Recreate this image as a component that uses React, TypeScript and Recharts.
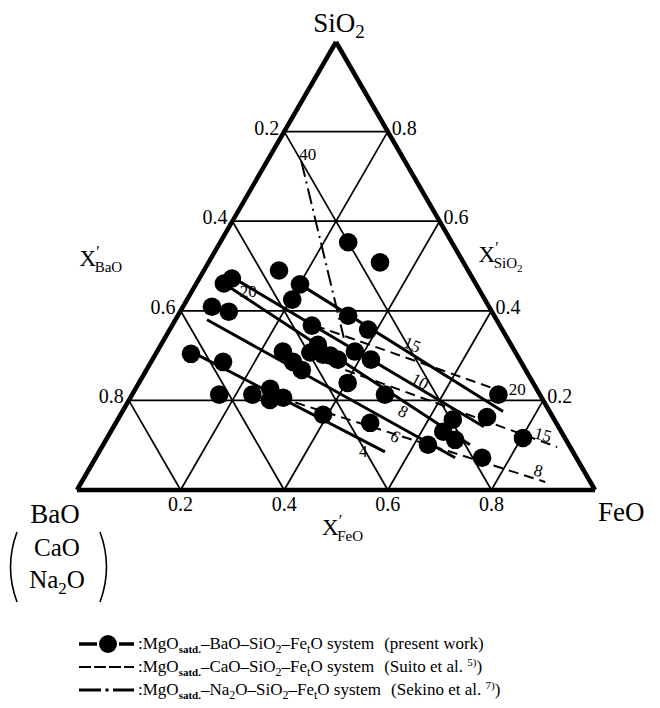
import React from 'react';
import { ScatterChart, Scatter, XAxis, YAxis, ReferenceLine, ReferenceDot } from 'recharts';

// Compositions are [X'FeO, X'SiO2]; X'BaO is the remainder.
type Comp = [number, number];

const gridLevels = [0.2, 0.4, 0.6, 0.8];
const levelLabels = ['0.2', '0.4', '0.6', '0.8'];

// MgO-saturated BaO-SiO2-FetO slags (present work)
const measured: Comp[] = [
  [0.247, 0.553], [0.331, 0.508], [0.145, 0.49], [0.201, 0.459], [0.203, 0.425],
  [0.063, 0.472], [0.053, 0.461], [0.056, 0.409], [0.094, 0.398], [0.329, 0.389],
  [0.383, 0.358], [0.27, 0.367], [0.303, 0.324], [0.243, 0.309], [0.274, 0.286],
  [0.3, 0.268], [0.339, 0.3], [0.358, 0.291], [0.382, 0.309], [0.422, 0.291],
  [0.403, 0.239], [0.068, 0.304], [0.139, 0.286], [0.168, 0.213], [0.232, 0.213],
  [0.26, 0.226], [0.272, 0.201], [0.295, 0.206], [0.391, 0.168], [0.488, 0.213],
  [0.491, 0.15], [0.707, 0.213], [0.71, 0.163], [0.803, 0.116], [0.647, 0.157],
  [0.642, 0.13], [0.674, 0.112], [0.627, 0.101], [0.746, 0.072], [0.297, 0.307],
  [0.324, 0.302],
];

// Iso-lines: BaO system (solid), CaO system (dashed), Na2O system (dash-dot)
const baoIsolines: { from: Comp; to: Comp }[] = [
  { from: [0.201, 0.459], to: [0.735, 0.175] },
  { from: [0.064, 0.474], to: [0.715, 0.141] },
  { from: [0.053, 0.461], to: [0.708, 0.101] },
  { from: [0.061, 0.38], to: [0.694, 0.072] },
  { from: [0.066, 0.309], to: [0.552, 0.085] },
];
const caoIsolines: { from: Comp; to: Comp }[] = [
  { from: [0.276, 0.367], to: [0.699, 0.224] },
  { from: [0.349, 0.28], to: [0.879, 0.096] },
  { from: [0.289, 0.206], to: [0.895, 0.018] },
];
const na2oIsolines: { from: Comp; to: Comp }[] = [
  { from: [0.066, 0.734], to: [0.345, 0.34] },
];

// Iso-line values and where they are written
const isoLabels: { text: string; at: Comp; angle: number }[] = [
  { text: '40', at: [0.071, 0.749], angle: 0 },
  { text: '20', at: [0.109, 0.443], angle: 0 },
  { text: '15', at: [0.485, 0.324], angle: 22 },
  { text: '10', at: [0.541, 0.242], angle: 28 },
  { text: '8', at: [0.542, 0.175], angle: 28 },
  { text: '6', at: [0.555, 0.119], angle: 28 },
  { text: '4', at: [0.51, 0.085], angle: 0 },
  { text: '20', at: [0.738, 0.224], angle: 0 },
  { text: '15', at: [0.838, 0.123], angle: 15 },
  { text: '8', at: [0.869, 0.043], angle: 15 },
];

const H = Math.sqrt(3) / 2;
const toXY = ([f, s]: Comp) => ({ x: f + s / 2, y: s * H });

const FONT = '"Liberation Serif", "DejaVu Serif", serif';

const seg = (a: Comp, b: Comp) => [toXY(a), toXY(b)];

function TextAt(key: string, at: Comp, render: (cx: number, cy: number) => React.ReactElement) {
  const p = toXY(at);
  return (
    <ReferenceDot
      key={key}
      x={p.x}
      y={p.y}
      r={0}
      ifOverflow="visible"
      isFront
      shape={(props: any) => render(props.cx, props.cy)}
    />
  );
}

export default function App() {
  const gridLines: { a: Comp; b: Comp }[] = [];
  gridLevels.forEach((v) => {
    gridLines.push({ a: [0, v], b: [1 - v, v] });
    gridLines.push({ a: [v, 0], b: [v, 1 - v] });
    gridLines.push({ a: [1 - v, 0], b: [0, 1 - v] });
  });
  const border: { a: Comp; b: Comp }[] = [
    { a: [0, 0], b: [1, 0] },
    { a: [1, 0], b: [0, 1] },
    { a: [0, 1], b: [0, 0] },
  ];
  const points = measured.map(toXY);

  return (
    <div style={{ position: 'relative', width: 644, height: 692, fontFamily: FONT }}>
      <ScatterChart width={644} height={600} margin={{ top: 34, left: 69, right: 57, bottom: 118 }}>
        <XAxis type="number" dataKey="x" domain={[0, 1]} hide />
        <YAxis type="number" dataKey="y" domain={[0, H]} hide />
        {gridLines.map((g, i) => (
          <ReferenceLine key={'g' + i} segment={seg(g.a, g.b)} stroke="#000" strokeWidth={1.7} ifOverflow="visible" />
        ))}
        {baoIsolines.map((l, i) => (
          <ReferenceLine key={'b' + i} segment={seg(l.from, l.to)} stroke="#000" strokeWidth={3} ifOverflow="visible" />
        ))}
        {caoIsolines.map((l, i) => (
          <ReferenceLine key={'c' + i} segment={seg(l.from, l.to)} stroke="#000" strokeWidth={2} strokeDasharray="10 6" ifOverflow="visible" />
        ))}
        {na2oIsolines.map((l, i) => (
          <ReferenceLine key={'n' + i} segment={seg(l.from, l.to)} stroke="#000" strokeWidth={2} strokeDasharray="16 5 2 5" ifOverflow="visible" />
        ))}
        {border.map((g, i) => (
          <ReferenceLine key={'e' + i} segment={seg(g.a, g.b)} stroke="#000" strokeWidth={4.5} ifOverflow="visible" />
        ))}
        <Scatter
          data={points}
          isAnimationActive={false}
          shape={(p: any) => <circle cx={p.cx} cy={p.cy} r={9.3} fill="#000" />}
        />
        {isoLabels.map((l, i) =>
          TextAt('l' + i, l.at, (cx, cy) => (
            <text x={cx} y={cy} fontSize={17} fontFamily={FONT} textAnchor="middle" dominantBaseline="central"
              transform={`rotate(${l.angle} ${cx} ${cy})`}>{l.text}</text>
          ))
        )}
        {gridLevels.map((v, i) =>
          TextAt('tl' + i, [0, 1 - v], (cx, cy) => (
            <text x={cx - 5} y={cy + 3} fontSize={20} fontFamily={FONT} textAnchor="end">{levelLabels[i]}</text>
          ))
        )}
        {gridLevels.map((v, i) =>
          TextAt('tr' + i, [1 - v, v], (cx, cy) => (
            <text x={cx + 4} y={cy + 3} fontSize={20} fontFamily={FONT} textAnchor="start">{levelLabels[i]}</text>
          ))
        )}
        {gridLevels.map((v, i) =>
          TextAt('tb' + i, [v, 0], (cx, cy) => (
            <text x={cx} y={cy + 21} fontSize={20} fontFamily={FONT} textAnchor="middle">{levelLabels[i]}</text>
          ))
        )}
        {TextAt('siO2', [0, 1], (cx, cy) => (
          <text x={cx + 3} y={cy - 10} fontSize={27} fontFamily={FONT} textAnchor="middle">
            SiO<tspan dy={6} fontSize={19}>2</tspan>
          </text>
        ))}
        {TextAt('feO', [1, 0], (cx, cy) => (
          <text x={cx + 3} y={cy + 31} fontSize={27} fontFamily={FONT} textAnchor="start">FeO</text>
        ))}
        {TextAt('baO', [0, 0], (cx, cy) => (
          <g>
            <text x={cx - 22} y={cy + 33} fontSize={27} fontFamily={FONT} textAnchor="middle">BaO</text>
            <text x={cx - 20} y={cy + 66} fontSize={25} fontFamily={FONT} textAnchor="middle">CaO</text>
            <text x={cx - 20} y={cy + 98} fontSize={25} fontFamily={FONT} textAnchor="middle">
              Na<tspan dy={6} fontSize={17}>2</tspan><tspan dy={-6}>O</tspan>
            </text>
            <path d={`M ${cx - 60} ${cy + 42} Q ${cx - 73} ${cy + 77} ${cx - 60} ${cy + 112}`} fill="none" stroke="#000" strokeWidth={1.6} />
            <path d={`M ${cx + 23} ${cy + 42} Q ${cx + 36} ${cy + 77} ${cx + 23} ${cy + 112}`} fill="none" stroke="#000" strokeWidth={1.6} />
          </g>
        ))}
        {TextAt('xFeO', [0.5, 0], (cx, cy) => (
          <text x={cx - 14} y={cy + 45} fontSize={23} fontFamily={FONT}>
            X<tspan dy={-9} fontSize={16}>′</tspan><tspan dx={-5} dy={15} fontSize={15}>FeO</tspan>
          </text>
        ))}
        {TextAt('xBaO', [0, 0.5], (cx, cy) => (
          <text x={cx - 127} y={cy} fontSize={23} fontFamily={FONT}>
            X<tspan dy={-9} fontSize={16}>′</tspan><tspan dx={-5} dy={15} fontSize={15}>BaO</tspan>
          </text>
        ))}
        {TextAt('xSiO2', [0.5, 0.5], (cx, cy) => (
          <text x={cx + 13} y={cy - 4} fontSize={23} fontFamily={FONT}>
            X<tspan dy={-9} fontSize={16}>′</tspan><tspan dx={-5} dy={15} fontSize={15}>SiO</tspan><tspan dy={4} fontSize={11}>2</tspan>
          </text>
        ))}
      </ScatterChart>
      <svg width={644} height={100} style={{ position: 'absolute', left: 0, top: 600 }} fontFamily={FONT}>
        <g transform="translate(0, 36)">
          <line x1={71} x2={89} y1={0} y2={0} stroke="#000" strokeWidth={3.5} />
          <circle cx={100} cy={0} r={9} fill="#000" />
          <line x1={111} x2={126} y1={0} y2={0} stroke="#000" strokeWidth={3.5} />
          <text x={130} y={5} fontSize={17}>
            :MgO<tspan dy={4} fontSize={11} fontWeight="bold">satd.</tspan><tspan dy={-4}>–BaO–SiO</tspan><tspan dy={4} fontSize={12}>2</tspan><tspan dy={-4}>–Fe</tspan><tspan dy={4} fontSize={12}>t</tspan><tspan dy={-4}>O system</tspan><tspan dx={10}>(present work)</tspan>
          </text>
        </g>
        <g transform="translate(0, 59)">
          <line x1={71} x2={126} y1={0} y2={0} stroke="#000" strokeWidth={2} strokeDasharray="12 3" />
          <text x={130} y={5} fontSize={17}>
            :MgO<tspan dy={4} fontSize={11} fontWeight="bold">satd.</tspan><tspan dy={-4}>–CaO–SiO</tspan><tspan dy={4} fontSize={12}>2</tspan><tspan dy={-4}>–Fe</tspan><tspan dy={4} fontSize={12}>t</tspan><tspan dy={-4}>O system</tspan><tspan dx={10}>(Suito et al. </tspan><tspan dy={-6} fontSize={11}>5)</tspan><tspan dy={6}>)</tspan>
          </text>
        </g>
        <g transform="translate(0, 82)">
          <line x1={71} x2={93} y1={0} y2={0} stroke="#000" strokeWidth={3} />
          <circle cx={99} cy={0} r={1.8} fill="#000" />
          <line x1={105} x2={126} y1={0} y2={0} stroke="#000" strokeWidth={3} />
          <text x={130} y={5} fontSize={17}>
            :MgO<tspan dy={4} fontSize={11} fontWeight="bold">satd.</tspan><tspan dy={-4}>–Na</tspan><tspan dy={4} fontSize={12}>2</tspan><tspan dy={-4}>O–SiO</tspan><tspan dy={4} fontSize={12}>2</tspan><tspan dy={-4}>–Fe</tspan><tspan dy={4} fontSize={12}>t</tspan><tspan dy={-4}>O system</tspan><tspan dx={10}>(Sekino et al. </tspan><tspan dy={-6} fontSize={11}>7)</tspan><tspan dy={6}>)</tspan>
          </text>
        </g>
      </svg>
    </div>
  );
}
